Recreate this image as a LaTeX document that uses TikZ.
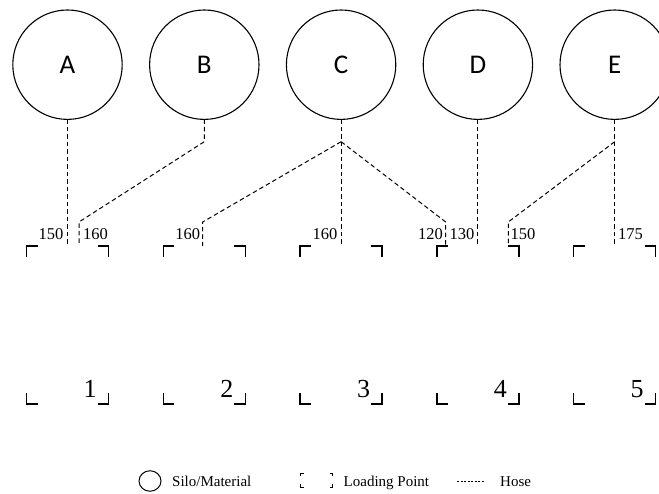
\documentclass[tikz,border=0pt]{standalone}
\usepackage{fontspec}
\usetikzlibrary{shapes.geometric}
\setmainfont{Liberation Serif}
\newfontfamily\silofont{Carlito}
\begin{document}
\begin{tikzpicture}[x=1pt,y=-1pt,
  silo/.style={circle,draw,line width=1.1pt,minimum size=109.4pt,inner sep=0pt,outer sep=0pt,
    font=\silofont\fontsize{27}{27}\selectfont},
  lpoint/.style={rectangle,minimum width=82pt,minimum height=158pt,inner sep=0pt,outer sep=0pt},
  corner/.style={line width=1.5pt,line join=miter},
  hose/.style={line width=1pt,dash pattern=on 4.5pt off 3pt},
  len/.style={font=\fontsize{16.5}{16.5}\selectfont,inner sep=0pt,anchor=base},
  lpnum/.style={font=\fontsize{26}{26}\selectfont,inner sep=0pt,anchor=base},
  legtext/.style={font=\fontsize{15}{15}\selectfont,inner sep=0pt,anchor=base west}
]
\clip (0,0) rectangle (659,494);

% silos
\foreach \n [count=\i from 0] in {A,B,C,D,E}
  \node[silo] (\n) at (67.5+136.8*\i,64.7) {\n};

% loading points with corner brackets
\foreach \i in {1,...,5}{
  \node[lpoint] (L\i) at (67.5+136.8*\i-136.8,325) {};
  \draw[corner] ([xshift=11pt]L\i.north west) -- (L\i.north west) -- ([yshift=-11pt]L\i.north west);
  \draw[corner] ([xshift=-11pt]L\i.north east) -- (L\i.north east) -- ([yshift=-11pt]L\i.north east);
  \draw[corner] ([yshift=11pt]L\i.south west) -- (L\i.south west) -- ([xshift=11pt]L\i.south west);
  \draw[corner] ([yshift=11pt]L\i.south east) -- (L\i.south east) -- ([xshift=-11pt]L\i.south east);
}

% hose ports on the loading points
\coordinate (p1b) at ([xshift=11.5pt]L1.north);
\coordinate (p2c) at ([xshift=-1.6pt]L2.north);
\coordinate (p4c) at ([xshift=-32.2pt]L4.north);
\coordinate (p4e) at ([xshift=30.4pt]L4.north);

% hose junctions below the silos
\path (B.south) ++(0,22.3) coordinate (jB);
\path (C.south) ++(0,22.3) coordinate (jC);
\path (E.south) ++(0,22.3) coordinate (jE);

% hoses
\draw[hose] (A.south) -- (L1.north);
\draw[hose] (B.south) -- (jB) -- ([yshift=24pt]p1b) -- (p1b);
\draw[hose] (C.south) -- (jC) -- (L3.north);
\draw[hose] (jC) -- ([yshift=24pt]p2c) -- (p2c);
\draw[hose] (jC) -- ([yshift=24pt]p4c) -- (p4c);
\draw[hose] (D.south) -- (L4.north);
\draw[hose] (E.south) -- (jE) -- (L5.north);
\draw[hose] (jE) -- ([yshift=24pt]p4e) -- (p4e);

% hose lengths
\node[len] (t1) at (51,240) {150};
\node[len] (t2) at (95.5,240) {160};
\node[len] (t3) at (187.7,240) {160};
\node[len] (t4) at (325,240) {160};
\node[len] (t5) at (430.5,240) {120};
\node[len] (t6) at (462,240) {130};
\node[len] (t7) at (523,240) {150};
\node[len] (t8) at (630.5,240) {175};

% loading point numbers
\foreach \i in {1,...,5}
  \node[lpnum] (n\i) at ([xshift=-18.5pt,yshift=6pt]L\i.south east) {\i};

% legend
\node[ellipse,draw,line width=1pt,minimum width=22pt,minimum height=20.5pt,inner sep=0pt] (lgS) at (150,481) {};
\node[legtext] (lgSt) at (172,486.5) {Silo/Material};
\node[rectangle,minimum width=32pt,minimum height=14pt,inner sep=0pt,outer sep=0pt] (lgL) at (316.5,480) {};
\draw[line width=0.8pt] ([xshift=3pt]lgL.north west) -- (lgL.north west) -- ([yshift=-3pt]lgL.north west);
\draw[line width=0.8pt] ([xshift=-3pt]lgL.north east) -- (lgL.north east) -- ([yshift=-3pt]lgL.north east);
\draw[line width=0.8pt] ([yshift=3pt]lgL.south west) -- (lgL.south west) -- ([xshift=3pt]lgL.south west);
\draw[line width=0.8pt] ([yshift=3pt]lgL.south east) -- (lgL.south east) -- ([xshift=-3pt]lgL.south east);
\node[legtext] (lgLt) at (343.5,486.5) {Loading Point};
\coordinate (lgH1) at (457,481);
\coordinate (lgH2) at (485,481);
\draw[line width=0.6pt,dash pattern=on 2pt off 1.5pt] (lgH1) -- (lgH2);
\node[legtext] (lgHt) at (500,486.5) {Hose};
\end{tikzpicture}
\end{document}
